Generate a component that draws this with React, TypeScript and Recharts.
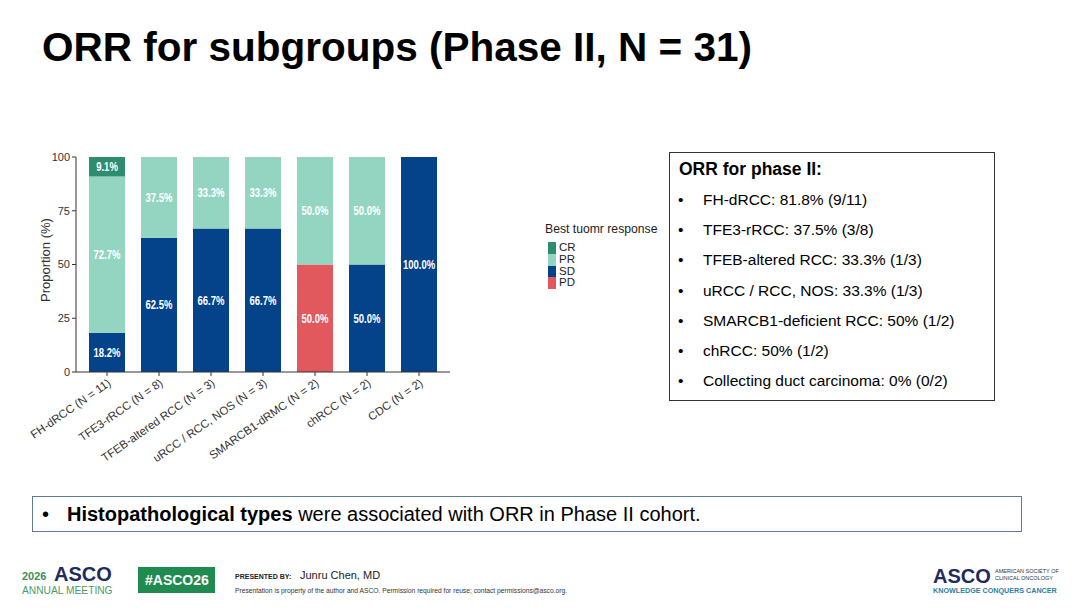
import React from "react";
import { Bar, BarChart, LabelList, XAxis, YAxis } from "recharts";

const CATEGORIES = [
  "FH-dRCC (N = 11)",
  "TFE3-rRCC (N = 8)",
  "TFEB-altered RCC (N = 3)",
  "uRCC / RCC, NOS (N = 3)",
  "SMARCB1-dRMC (N = 2)",
  "chRCC (N = 2)",
  "CDC (N = 2)",
];
const CR = [9.1, 0, 0, 0, 0, 0, 0];
const PR = [72.7, 37.5, 33.3, 33.3, 50.0, 50.0, 0];
const SD = [18.2, 62.5, 66.7, 66.7, 0, 50.0, 100.0];
const PD = [0, 0, 0, 0, 50.0, 0, 0];
const Y_TICKS = [0, 25, 50, 75, 100];

const RESPONSES = ["CR", "PR", "SD", "PD"];
const COLORS: Record<string, string> = {
  CR: "#2e8d6e",
  PR: "#93d5c0",
  SD: "#04438a",
  PD: "#e1585d",
};

const ORR_LINES = [
  "FH-dRCC: 81.8% (9/11)",
  "TFE3-rRCC: 37.5% (3/8)",
  "TFEB-altered RCC: 33.3% (1/3)",
  "uRCC / RCC, NOS: 33.3% (1/3)",
  "SMARCB1-deficient RCC: 50% (1/2)",
  "chRCC: 50% (1/2)",
  "Collecting duct carcinoma: 0% (0/2)",
];

const chartData = CATEGORIES.map((name, i) => ({
  name,
  CR: CR[i],
  PR: PR[i],
  SD: SD[i],
  PD: PD[i],
}));

const FONT = "'Liberation Sans', Arial, Helvetica, sans-serif";

// text placed by the vertical centre of its capitals
function T({
  x,
  y,
  size,
  bold,
  color = "#000",
  sx,
  children,
}: {
  x: number;
  y: number;
  size: number;
  bold?: boolean;
  color?: string;
  sx?: number;
  children: React.ReactNode;
}) {
  return (
    <div
      style={{
        position: "absolute",
        left: x,
        top: y,
        fontSize: size,
        lineHeight: 1,
        fontWeight: bold ? 700 : 400,
        color,
        whiteSpace: "nowrap",
        transform: `translateY(-50%)${sx ? ` scaleX(${sx})` : ""}`,
        transformOrigin: "left center",
      }}
    >
      {children}
    </div>
  );
}

function SegmentLabel(props: any) {
  const { x, y, width, height, value } = props;
  if (!value) return null;
  const cx = Number(x) + Number(width) / 2;
  const cy = Number(y) + Number(height) / 2;
  return (
    <text
      transform={`translate(${cx},${cy}) scale(0.76,1)`}
      textAnchor="middle"
      dominantBaseline="central"
      fill="#fff"
      fontSize={12.5}
      fontWeight={700}
      fontFamily={FONT}
    >
      {`${Number(value).toFixed(1)}%`}
    </text>
  );
}

export default function App() {
  const stackOrder = ["PD", "SD", "PR", "CR"];
  return (
    <div
      style={{
        position: "fixed",
        left: 0,
        top: 0,
        width: 1080,
        height: 608,
        background: "#fff",
        fontFamily: FONT,
        overflow: "hidden",
      }}
    >
      <T x={42} y={47} size={40.5} bold>
        ORR for subgroups (Phase II, N = 31)
      </T>

      <div style={{ position: "absolute", left: 0, top: 140 }}>
        <BarChart
          width={470}
          height={330}
          data={chartData}
          margin={{ top: 17, right: 20, bottom: 0, left: 0 }}
        >
          <XAxis
            dataKey="name"
            height={98}
            padding={{ left: 5, right: 5 }}
            interval={0}
            angle={-35}
            textAnchor="end"
            tickSize={4}
            tickMargin={2}
            stroke="#333"
            tick={{ fontSize: 11.5, fill: "#333", fontFamily: FONT }}
          />
          <YAxis
            width={76}
            domain={[0, 100]}
            ticks={Y_TICKS}
            tickSize={4}
            tickMargin={2}
            stroke="#333"
            tick={{ fontSize: 11, fill: "#333", fontFamily: FONT }}
          />
          {stackOrder.map((key) => (
            <Bar
              key={key}
              dataKey={key}
              stackId="a"
              barSize={36}
              fill={COLORS[key]}
              isAnimationActive={false}
            >
              <LabelList dataKey={key} content={<SegmentLabel />} />
            </Bar>
          ))}
        </BarChart>
      </div>

      <div
        style={{
          position: "absolute",
          left: -14,
          top: 252,
          width: 120,
          textAlign: "center",
          fontSize: 13,
          lineHeight: "16px",
          color: "#333",
          transform: "rotate(-90deg)",
        }}
      >
        Proportion (%)
      </div>

      <T x={545} y={229} size={12.2} color="#222">
        Best tuomr response
      </T>
      {RESPONSES.map((r, i) => (
        <React.Fragment key={r}>
          <div
            style={{
              position: "absolute",
              left: 548,
              top: 242 + i * 11.8,
              width: 8,
              height: 11.8,
              background: COLORS[r],
            }}
          />
          <T x={559} y={248 + i * 11.8} size={11.5} color="#222">
            {r}
          </T>
        </React.Fragment>
      ))}

      <div
        style={{
          position: "absolute",
          left: 669,
          top: 152,
          width: 326,
          height: 249,
          boxSizing: "border-box",
          border: "1px solid #333",
        }}
      />
      <T x={679} y={170} size={17.5} bold>
        ORR for phase II:
      </T>
      {ORR_LINES.map((line, i) => (
        <React.Fragment key={line}>
          <T x={678} y={200 + i * 30.2} size={15.5}>
            •
          </T>
          <T x={703} y={200 + i * 30.2} size={15.5}>
            {line}
          </T>
        </React.Fragment>
      ))}

      <div
        style={{
          position: "absolute",
          left: 32,
          top: 496,
          width: 990,
          height: 36,
          boxSizing: "border-box",
          border: "1.5px solid #5b7a9c",
        }}
      />
      <T x={42} y={514} size={20}>
        •
      </T>
      <T x={67} y={514} size={20}>
        <b>Histopathological types</b> were associated with ORR in Phase II cohort.
      </T>

      {/* footer */}
      <T x={22} y={576} size={11} bold color="#3d8f5a">
        2026
      </T>
      <T x={54} y={574} size={20} bold color="#1f2b5e">
        ASCO
      </T>
      <T x={22} y={590} size={11} color="#4a9a68" sx={0.93}>
        ANNUAL MEETING
      </T>
      <div
        style={{
          position: "absolute",
          left: 138,
          top: 567,
          width: 77,
          height: 26,
          background: "#1f8b50",
        }}
      />
      <T x={145} y={580} size={14} bold color="#fff">
        #ASCO26
      </T>
      <T x={235} y={576} size={7} bold color="#222">
        PRESENTED BY:
      </T>
      <T x={300} y={575} size={11} color="#222">
        Junru Chen, MD
      </T>
      <T x={235} y={591} size={6.7} color="#333">
        Presentation is property of the author and ASCO. Permission required for reuse; contact permissions@asco.org.
      </T>
      <T x={933} y={576} size={20} bold color="#1f2b5e">
        ASCO
      </T>
      <T x={995} y={572} size={5.5} color="#333">
        AMERICAN SOCIETY OF
      </T>
      <T x={995} y={579} size={5.5} color="#333">
        CLINICAL ONCOLOGY
      </T>
      <T x={933} y={591} size={7.2} bold color="#2d7fa0">
        KNOWLEDGE CONQUERS CANCER
      </T>
    </div>
  );
}
